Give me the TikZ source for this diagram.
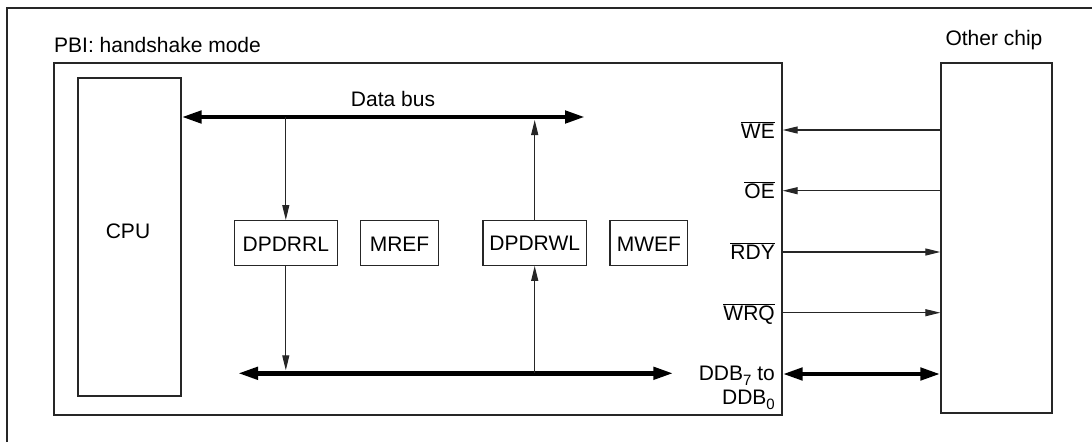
\documentclass[tikz,border=0pt]{standalone}
\usepackage{fontspec}
\setmainfont{Liberation Sans}
\usetikzlibrary{arrows.meta}
\newcommand{\lowsub}[1]{\raisebox{-0.25em}{\fontsize{15}{16}\selectfont #1}}
\begin{document}
\begin{tikzpicture}[x=1pt,y=-1pt,
  every node/.style={font=\fontsize{21}{24}\selectfont, inner sep=0pt},
  frame/.style={draw=black!85, line width=1.3pt},
  regbox/.style={draw=black!85, line width=1.3pt, minimum height=44.6pt},
  sig/.style={draw=black!85, line width=1.1pt, -{Triangle[length=15pt,width=7pt]}},
  bus/.style={draw=black, line width=4.5pt, {Triangle[length=20pt,width=12pt]}-{Triangle[length=20pt,width=12pt]}},
  lbl/.style={anchor=base east, align=right}]
\useasboundingbox (0,0) rectangle (1092,442);
% outer frame (cut off at right and bottom)
\draw[frame] (7,442) -- (7,8) -- (1092,8);
% PBI box
\node[anchor=base west] (title) at (54,52) {PBI: handshake mode};
\node[frame, minimum width=728pt, minimum height=352pt] (pbi) at (418,239) {};
% CPU
\node[frame, minimum width=103pt, minimum height=318pt] (cpu) at (129.5,237) {};
\node[anchor=base] (cpul) at (128,238.3) {CPU};
% registers
\node[regbox, minimum width=103pt] (rrl) at (285.8,243) {};
\node[anchor=base] at (rrl.center |- 0,251.7) {DPDRRL};
\node[regbox, minimum width=77.6pt] (mref) at (399.5,243) {};
\node[anchor=base] at (mref.center |- 0,251.7) {MREF};
\node[regbox, minimum width=103.3pt] (rwl) at (534.7,243) {};
\node[anchor=base] at (rwl.center |- 0,250) {DPDRWL};
\node[regbox, minimum width=77.7pt] (mwef) at (648.9,243) {};
\node[anchor=base] at (mwef.center |- 0,251) {MWEF};
% Other chip
\node[anchor=base] (otl) at (994,45) {Other chip};
\node[frame, minimum width=111pt, minimum height=350pt] (chip) at (996.5,238) {};
% data bus
\coordinate (dbL) at (181.6,117);
\coordinate (dbR) at (585,117);
\draw[bus] (dbL) -- (dbR);
\node[anchor=base] (dbl) at (393,106.5) {Data bus};
\draw[sig] (rrl.north |- dbL) -- (rrl.north);
\draw[sig] (rwl.north) -- ([yshift=-3pt]rwl.north |- dbL);
% bottom bus
\coordinate (bbL) at (238,373.3);
\coordinate (bbR) at (673.3,373.3);
\draw[bus] (bbL) -- (bbR);
\draw[sig] (rrl.south) -- ([yshift=3pt]rrl.south |- bbL);
\draw[sig] (rwl.south |- bbL) -- (rwl.south);
% signals
\draw[sig] (chip.west |- 0,130) -- (pbi.east |- 0,130);
\draw[sig] (chip.west |- 0,190.7) -- (pbi.east |- 0,190.7);
\draw[sig] (pbi.east |- 0,252) -- (chip.west |- 0,252);
\draw[sig] (pbi.east |- 0,312.7) -- (chip.west |- 0,312.7);
\draw[bus] (pbi.east |- 0,374) -- (chip.west |- 0,374);
\node[lbl] (we) at (775,138) {$\overline{\mbox{WE}}$};
\node[lbl] (oe) at (775,198) {$\overline{\mbox{OE}}$};
\node[lbl] (rdy) at (775,259.5) {$\overline{\mbox{RDY}}$};
\node[lbl] (wrq) at (775,320) {$\overline{\mbox{WRQ}}$};
\node[lbl] (ddb7) at (775,380) {DDB\lowsub{7} to};
\node[lbl] (ddb0) at (775,404) {DDB\lowsub{0}};
\end{tikzpicture}
\end{document}
